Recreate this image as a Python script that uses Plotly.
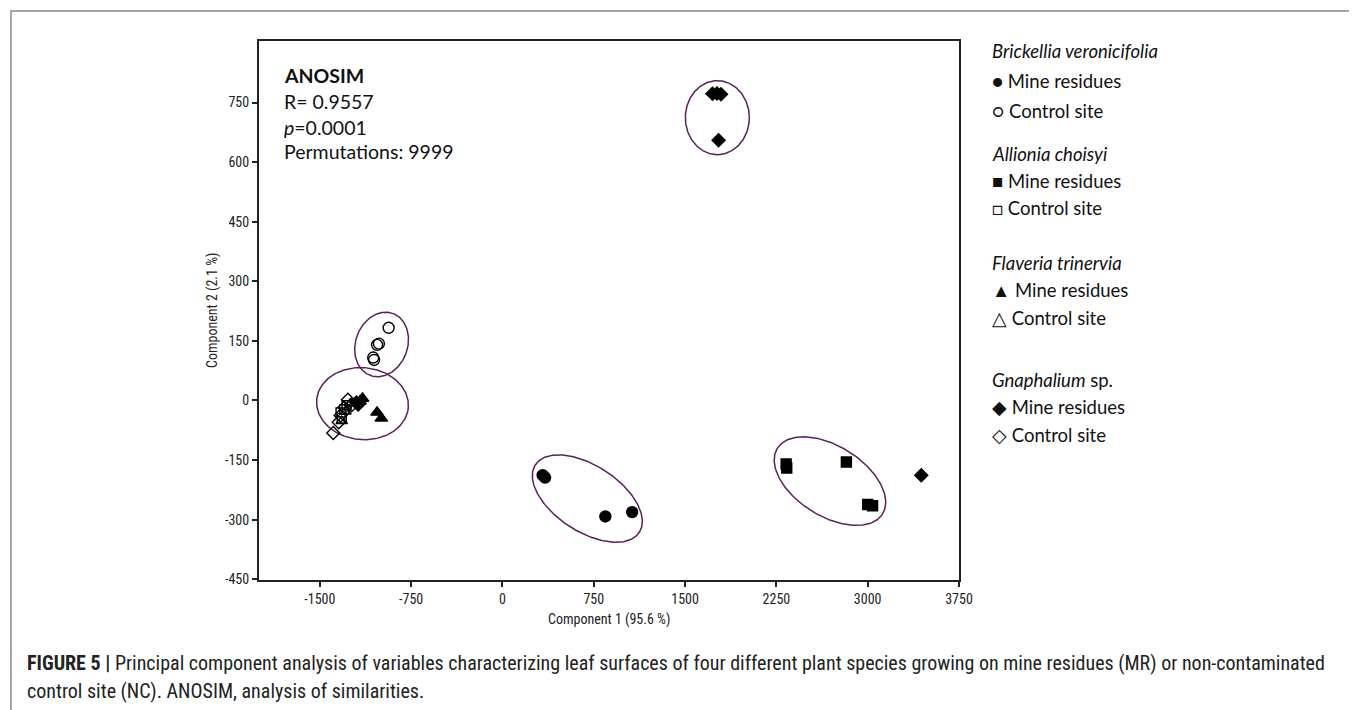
import numpy as np
import plotly.graph_objects as go

W, H = 1357, 710

# ---- data (Component 1, Component 2) ----
bv_mr_x = [330, 350, 845, 1065]
bv_mr_y = [-188, -194, -292, -281]
bv_nc_x = [-935, -1015, -1030, -1062, -1055]
bv_nc_y = [183, 143, 140, 108, 102]
ac_mr_x = [2330, 2335, 2825, 3000, 3040]
ac_mr_y = [-160, -170, -155, -262, -265]
ac_nc_x = [-1330, -1320, -1300, -1280]
ac_nc_y = [-30, -45, -22, -12]
ft_mr_x = [-1170, -1150, -1030, -995]
ft_mr_y = [-2, 5, -30, -45]
ft_nc_x = [-1320, -1290, -1250]
ft_nc_y = [-52, -28, -8]
gn_mr_x = [1725, 1762, 1795, 1775, 3440, -1200, -1185]
gn_mr_y = [772, 773, 771, 655, -188, -5, -10]
gn_nc_x = [-1390, -1345, -1330, -1300, -1270, -1240]
gn_nc_y = [-82, -55, -38, -18, 2, -12]

x_ticks = [-1500, -750, 0, 750, 1500, 2250, 3000, 3750]
x_tick_text = ["-1500", "-750", "0", "750", "1500", "2250", "3000", "3750"]
y_ticks = [-450, -300, -150, 0, 150, 300, 450, 600, 750]
y_tick_text = ["-450", "-300", "-150", "0", "150", "300", "450", "600", "750"]
x_range = [-2000, 3750]
y_range = [-452, 905]

# ellipse specs: centre (data), semi-axes (px), rotation (deg)
ellipses = [
    (1765, 712, 32, 37, 0),
    (-993, 141, 26, 33, -20),
    (-1150, -8, 46, 36, -5),
    (697, -247, 62, 33, -33),
    (2690, -203, 62, 35, -32),
]

# plot area in pixels
PX0, PX1, PY0, PY1 = 251, 951, 33, 572
kx = (PX1 - PX0) / (x_range[1] - x_range[0])
ky = (PY1 - PY0) / (y_range[1] - y_range[0])

def px(x):
    return x / W

def py(y):
    return 1 - y / H

fig = go.Figure()

ell_color = "#5b1f5e"
t = np.linspace(0, 2 * np.pi, 240)
for cx, cy, a, b, ang in ellipses:
    th = np.deg2rad(ang)
    u = a * np.cos(t)
    v = b * np.sin(t)
    ur = u * np.cos(th) - v * np.sin(th)
    vr = u * np.sin(th) + v * np.cos(th)
    fig.add_trace(go.Scatter(x=cx + ur / kx, y=cy + vr / ky, mode="lines",
                             line=dict(color=ell_color, width=1.5),
                             hoverinfo="skip", showlegend=False))

series = [
    ("B. veronicifolia MR", bv_mr_x, bv_mr_y, "circle", 11),
    ("B. veronicifolia NC", bv_nc_x, bv_nc_y, "circle-open", 11),
    ("A. choisyi MR", ac_mr_x, ac_mr_y, "square", 10),
    ("A. choisyi NC", ac_nc_x, ac_nc_y, "square-open", 9),
    ("F. trinervia MR", ft_mr_x, ft_mr_y, "triangle-up", 11),
    ("F. trinervia NC", ft_nc_x, ft_nc_y, "triangle-up-open", 10),
    ("Gnaphalium MR", gn_mr_x, gn_mr_y, "diamond", 10),
    ("Gnaphalium NC", gn_nc_x, gn_nc_y, "diamond-open", 10),
]
for name, xs, ys, sym, sz in series:
    fig.add_trace(go.Scatter(x=xs, y=ys, mode="markers", name=name,
                             marker=dict(symbol=sym, size=sz, color="black",
                                         line=dict(color="black", width=1.4)),
                             showlegend=False))

narrow = "Liberation Sans Narrow, Arial Narrow, Roboto Condensed, Liberation Sans, sans-serif"
tickfont = dict(family=narrow, size=14, color="#222")
axis_common = dict(showgrid=False, zeroline=False, showline=True, linecolor="#222",
                   linewidth=2, mirror=True, ticks="outside", ticklen=5, tickwidth=1.5,
                   tickcolor="#222", tickfont=tickfont, automargin=False)

fig.update_layout(
    width=W, height=H,
    margin=dict(l=0, r=0, t=0, b=0),
    paper_bgcolor="white", plot_bgcolor="white",
    xaxis=dict(range=x_range, tickvals=x_ticks, ticktext=x_tick_text,
               domain=[PX0 / W, PX1 / W], **axis_common),
    yaxis=dict(range=y_range, tickvals=y_ticks, ticktext=y_tick_text,
               domain=[1 - PY1 / H, 1 - PY0 / H], **axis_common),
    showlegend=False,
)

ann = []
lab_font = dict(family=narrow, size=14, color="#222")
ann.append(dict(x=px(601), y=py(611), xref="paper", yref="paper", text="Component 1 (95.6 %)",
                showarrow=False, font=lab_font, xanchor="center", yanchor="middle"))
ann.append(dict(x=px(204), y=py(302), xref="paper", yref="paper", text="Component 2 (2.1 %)",
                showarrow=False, font=lab_font, textangle=-90, xanchor="center", yanchor="middle"))

txt_font = dict(family="Lato, Open Sans, sans-serif", size=19.5, color="#111")
anosim = [("<b>ANOSIM</b>", 68), ("R= 0.9557", 93), ("<i>p</i>=0.0001", 119), ("Permutations: 9999", 144)]
for s, yy in anosim:
    ann.append(dict(x=px(274), y=py(yy), xref="paper", yref="paper", text=s, showarrow=False,
                    font=txt_font, xanchor="left", yanchor="middle"))

leg_font = dict(family="Lato, Open Sans, sans-serif", size=18.5, color="#111")
legend_lines = [
    ("<i>Brickellia veronicifolia</i>", 43),
    ("● Mine residues", 73),
    ("○ Control site", 103),
    ("<i>Allionia choisyi</i>", 146),
    ("■ Mine residues", 173),
    ("□ Control site", 200),
    ("<i>Flaveria trinervia</i>", 255),
    ("▲ Mine residues", 282),
    ("△ Control site", 310),
    ("<i>Gnaphalium</i> sp.", 372),
    ("◆ Mine residues", 399),
    ("◇ Control site", 427),
]
for s, yy in legend_lines:
    ann.append(dict(x=px(982), y=py(yy), xref="paper", yref="paper", text=s, showarrow=False,
                    font=leg_font, xanchor="left", yanchor="middle"))

cap_font = dict(family=narrow, size=20, color="#222")
ann.append(dict(x=px(17), y=py(655), xref="paper", yref="paper",
                text="<b>FIGURE 5 |</b> Principal component analysis of variables characterizing leaf surfaces of four different plant species growing on mine residues (MR) or non-contaminated",
                showarrow=False, font=cap_font, xanchor="left", yanchor="middle"))
ann.append(dict(x=px(17), y=py(683), xref="paper", yref="paper",
                text="control site (NC). ANOSIM, analysis of similarities.",
                showarrow=False, font=cap_font, xanchor="left", yanchor="middle"))
fig.update_layout(annotations=ann)

fig.add_shape(type="rect", xref="paper", yref="paper", x0=px(3), x1=px(1355), y0=py(706), y1=py(3),
              line=dict(color="#888", width=1.5), fillcolor="rgba(0,0,0,0)", layer="below")

fig.write_html("out.html")
